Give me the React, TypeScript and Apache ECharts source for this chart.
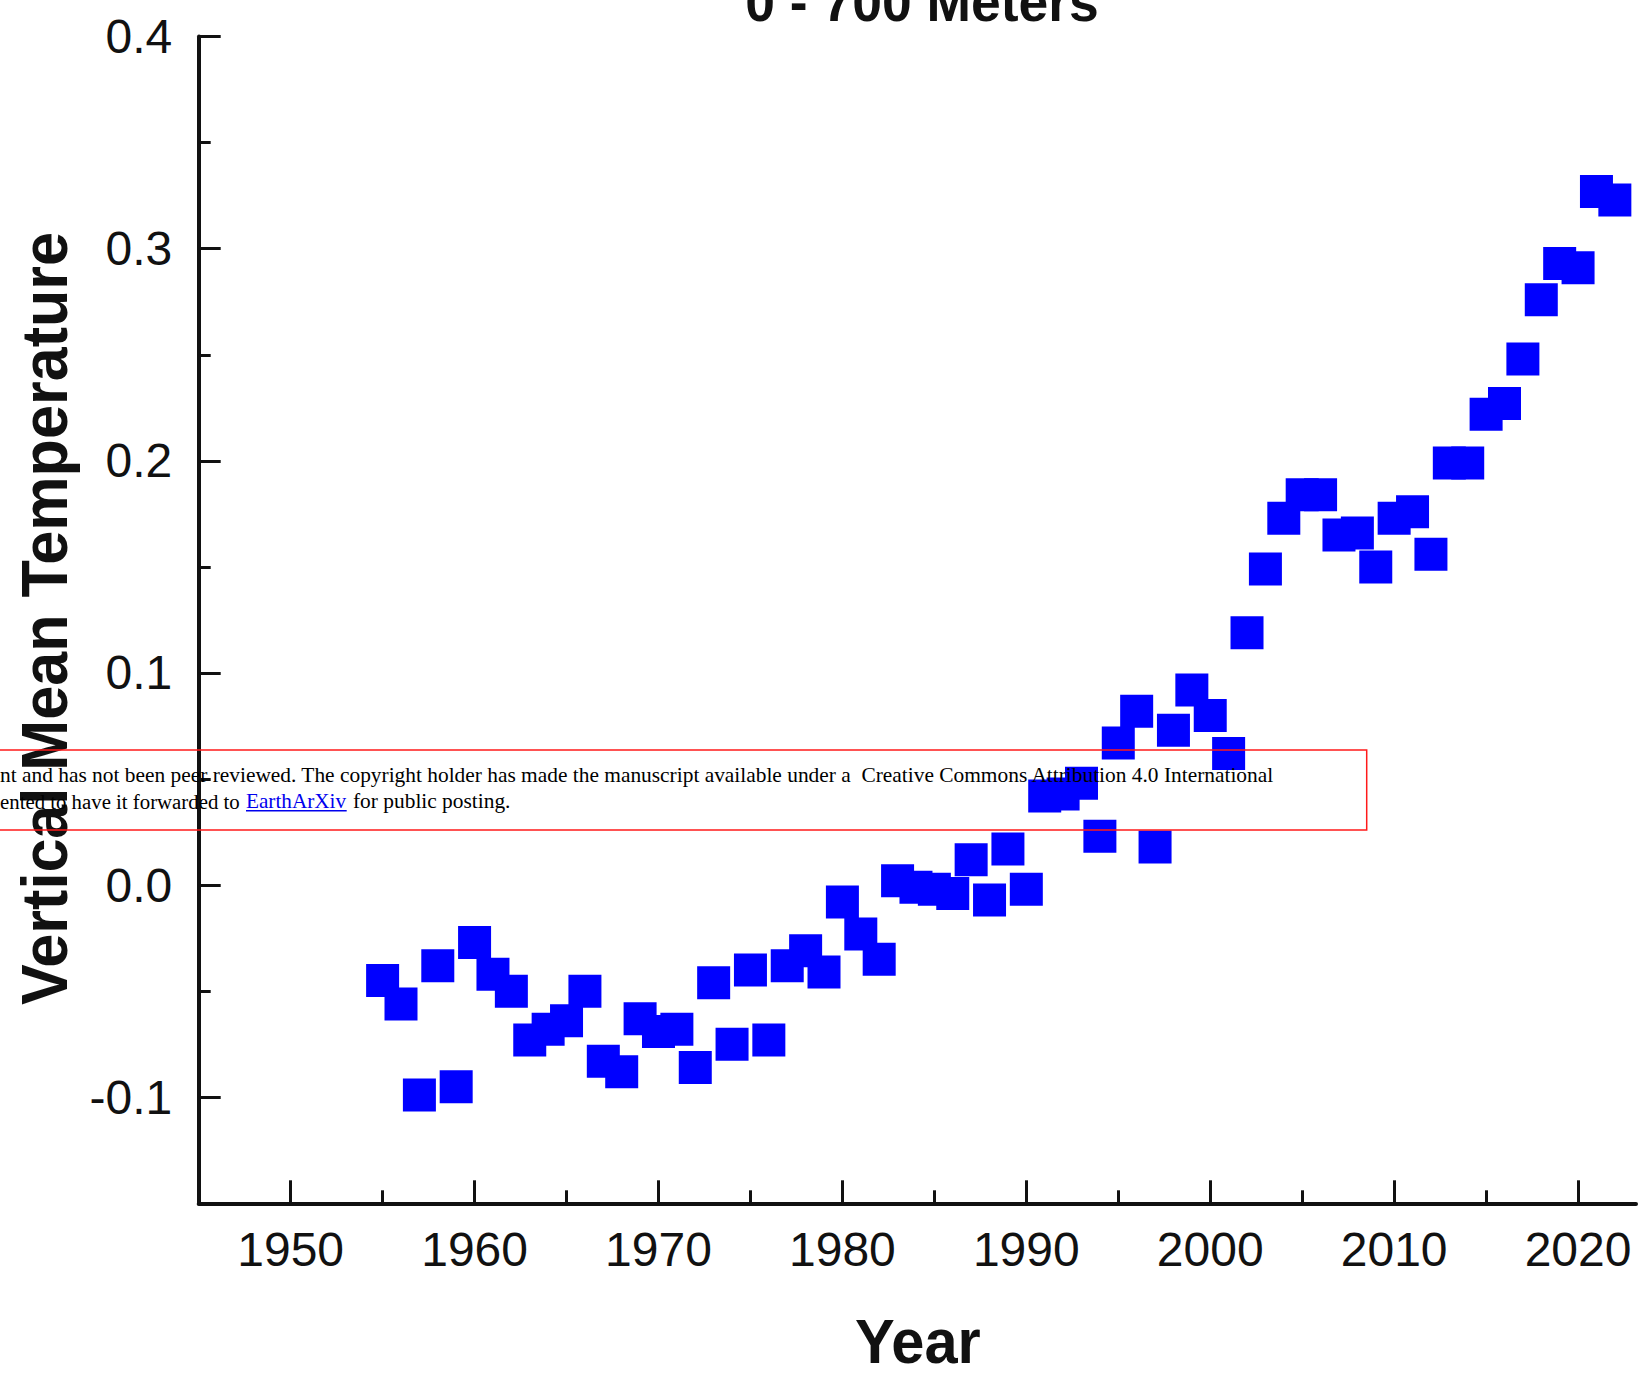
import React, { useEffect, useRef } from "react";
import * as echarts from "echarts";

const years = [
  1955, 1956, 1957, 1958, 1959, 1960, 1961, 1962, 1963, 1964,
  1965, 1966, 1967, 1968, 1969, 1970, 1971, 1972, 1973, 1974,
  1975, 1976, 1977, 1978, 1979, 1980, 1981, 1982, 1983, 1984,
  1985, 1986, 1987, 1988, 1989, 1990, 1991, 1992, 1993, 1994,
  1995, 1996, 1997, 1998, 1999, 2000, 2001, 2002, 2003, 2004,
  2005, 2006, 2007, 2008, 2009, 2010, 2011, 2012, 2013, 2014,
  2015, 2016, 2017, 2018, 2019, 2020, 2021, 2022,
];

const temps = [
  -0.045, -0.056, -0.099, -0.038, -0.095, -0.027, -0.042, -0.05, -0.073, -0.068,
  -0.064, -0.05, -0.083, -0.088, -0.063, -0.069, -0.068, -0.086, -0.046, -0.075,
  -0.04, -0.073, -0.038, -0.031, -0.041, -0.008, -0.023, -0.035, 0.002, -0.001,
  -0.002, -0.004, 0.012, -0.007, 0.017, -0.002, 0.042, 0.043, 0.048, 0.023,
  0.067, 0.082, 0.018, 0.073, 0.092, 0.08, 0.062, 0.119, 0.149, 0.173,
  0.184, 0.184, 0.165, 0.166, 0.15, 0.173, 0.176, 0.156, 0.199, 0.199,
  0.222, 0.227, 0.248, 0.276, 0.293, 0.291, 0.327, 0.323,
];

const xMajorTicks = [1950, 1960, 1970, 1980, 1990, 2000, 2010, 2020];
const xMinorTicks = [1955, 1965, 1975, 1985, 1995, 2005, 2015];
const yMajorTicks = [-0.1, 0, 0.1, 0.2, 0.3, 0.4];
const yMinorTicks = [-0.05, 0.05, 0.15, 0.25, 0.35];

const X_MIN = 1945;
const X_MAX = 2023.15;
const Y_MIN = -0.15;
const Y_MAX = 0.4;

const titleText = "0 - 700 Meters";
const xTitle = "Year";
const yTitle = "Vertical Mean Temperature";
const notice1 =
  "nt and has not been peer reviewed. The copyright holder has made the manuscript available under a  Creative Commons Attribution 4.0 International";
const notice2a = "ented to have it forwarded to";
const noticeLink = "EarthArXiv";
const notice2c = "for public posting.";

const SANS = '"Liberation Sans", Arial, Helvetica, sans-serif';
const SERIF = '"Liberation Serif", "Times New Roman", Times, serif';
const INK = "#111111";

export default function App() {
  const ref = useRef<HTMLDivElement>(null);

  useEffect(() => {
    if (!ref.current) return;
    const chart = echarts.init(ref.current, null, { renderer: "svg" });

    const axisBase = {
      type: "value" as const,
      splitLine: { show: false },
    };

    const option: any = {
      animation: false,
      backgroundColor: "#ffffff",
      grid: { left: 198.7, right: 5, top: 36.6, bottom: 171.7, containLabel: false },
      xAxis: [
        {
          ...axisBase,
          min: X_MIN,
          max: X_MAX,
          position: "bottom",
          axisLine: { show: true, onZero: false, lineStyle: { color: INK, width: 4 } },
          axisTick: {
            show: true,
            inside: true,
            length: 23,
            lineStyle: { color: INK, width: 3 },
            customValues: xMajorTicks,
          },
          axisLabel: {
            show: true,
            customValues: xMajorTicks,
            margin: 22,
            fontSize: 48,
            lineHeight: 48,
            fontFamily: SANS,
            color: INK,
            formatter: (v: number) => String(v),
          },
        },
        {
          ...axisBase,
          min: X_MIN,
          max: X_MAX,
          position: "bottom",
          axisLine: { show: false, onZero: false },
          axisTick: {
            show: true,
            inside: true,
            length: 13,
            lineStyle: { color: INK, width: 3 },
            customValues: xMinorTicks,
          },
          axisLabel: { show: false },
        },
      ],
      yAxis: [
        {
          ...axisBase,
          min: Y_MIN,
          max: Y_MAX,
          position: "left",
          axisLine: { show: true, onZero: false, lineStyle: { color: INK, width: 4 } },
          axisTick: {
            show: true,
            inside: true,
            length: 22,
            lineStyle: { color: INK, width: 3 },
            customValues: yMajorTicks,
          },
          axisLabel: {
            show: true,
            customValues: yMajorTicks,
            margin: 26.5,
            fontSize: 48,
            lineHeight: 48,
            fontFamily: SANS,
            color: INK,
            formatter: (v: number) => v.toFixed(1),
          },
        },
        {
          ...axisBase,
          min: Y_MIN,
          max: Y_MAX,
          position: "left",
          axisLine: { show: false, onZero: false },
          axisTick: {
            show: true,
            inside: true,
            length: 12,
            lineStyle: { color: INK, width: 3 },
            customValues: yMinorTicks,
          },
          axisLabel: { show: false },
        },
      ],
      series: [
        {
          type: "scatter",
          xAxisIndex: 0,
          yAxisIndex: 0,
          symbol: "rect",
          symbolSize: 33,
          itemStyle: { color: "#0000ff", opacity: 1 },
          data: years.map((yr, i) => [yr, temps[i]]),
          z: 2,
        },
      ],
      graphic: {
        elements: [
          {
            type: "text",
            x: 922,
            y: 1.3,
            scaleX: 0.955,
            style: {
              text: titleText,
              font: `bold 56px ${SANS}`,
              fill: INK,
              align: "center",
              verticalAlign: "middle",
            },
          },
          {
            type: "text",
            x: 917.8,
            y: 1341.2,
            scaleX: 0.945,
            style: {
              text: xTitle,
              font: `bold 63px ${SANS}`,
              fill: INK,
              align: "center",
              verticalAlign: "middle",
            },
          },
          {
            type: "text",
            x: 44.5,
            y: 618.5,
            rotation: Math.PI / 2,
            scaleX: 0.955,
            style: {
              text: yTitle,
              font: `bold 64px ${SANS}`,
              fill: INK,
              align: "center",
              verticalAlign: "middle",
            },
          },
          {
            type: "rect",
            z: 100,
            shape: { x: -5, y: 750, width: 1371.7, height: 80 },
            style: { fill: "none", stroke: "#ff1a1a", lineWidth: 1.5 },
          },
          {
            type: "text",
            z: 101,
            x: 0,
            y: 785.2,
            style: {
              text: notice1,
              font: `21.4px ${SERIF}`,
              fill: "#000000",
              align: "left",
              verticalAlign: "bottom",
            },
          },
          {
            type: "text",
            z: 101,
            x: 0,
            y: 811.8,
            style: {
              text: notice2a,
              font: `20.8px ${SERIF}`,
              fill: "#000000",
              align: "left",
              verticalAlign: "bottom",
            },
          },
          {
            type: "text",
            z: 101,
            x: 246,
            y: 811.8,
            style: {
              text: noticeLink,
              font: `21.2px ${SERIF}`,
              fill: "#0000ee",
              align: "left",
              verticalAlign: "bottom",
            },
          },
          {
            type: "line",
            z: 101,
            shape: { x1: 246, y1: 810.7, x2: 346.7, y2: 810.7 },
            style: { stroke: "#0000ee", lineWidth: 1.5 },
          },
          {
            type: "text",
            z: 101,
            x: 353,
            y: 811.8,
            style: {
              text: notice2c,
              font: `21.4px ${SERIF}`,
              fill: "#000000",
              align: "left",
              verticalAlign: "bottom",
            },
          },
        ],
      },
    };

    chart.setOption(option);
    return () => {
      chart.dispose();
    };
  }, []);

  return (
    <div
      style={{
        position: "fixed",
        left: 0,
        top: 0,
        width: 1641,
        height: 1375,
        overflow: "hidden",
        background: "#ffffff",
      }}
    >
      <div ref={ref} style={{ width: 1641, height: 1375 }} />
    </div>
  );
}
